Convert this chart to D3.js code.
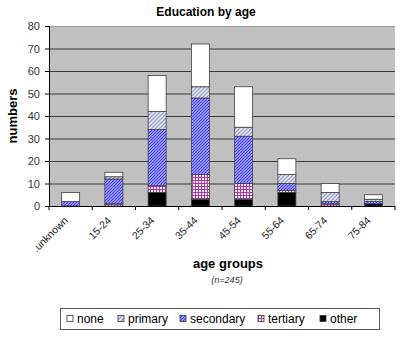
<!DOCTYPE html>
<html><head><meta charset="utf-8">
<script src="https://cdn.jsdelivr.net/npm/d3@7"></script>
<style>body{margin:0;background:#fff}svg{display:block}text{font-family:Arial,"Liberation Sans",sans-serif}</style>
</head><body>
<script>
const categories = [".unknown","15-24","25-34","35-44","45-54","55-64","65-74","75-84"];
const other     = [0, 0, 6, 3, 3, 6, 0, 1];
const tertiary  = [0, 1, 3, 11, 7, 1, 1, 0];
const secondary = [2, 11, 25, 34, 21, 3, 1, 1];
const primary   = [0, 1, 8, 5, 4, 4, 4, 1];
const none      = [4, 2, 16, 19, 18, 7, 4, 2];
const yTicks = [0,10,20,30,40,50,60,70,80];
const seriesNames = ["other","tertiary","secondary","primary","none"];
const legendOrder = ["none","primary","secondary","tertiary","other"];

(function(){
const W = 400, H = 337;
const svg = d3.select("body").append("svg").attr("width", W).attr("height", H);
const defs = svg.append("defs");

const pPrim = defs.append("pattern").attr("id","pat-primary").attr("patternUnits","userSpaceOnUse").attr("width",4).attr("height",4);
pPrim.append("rect").attr("width",4).attr("height",4).attr("fill","#eceef8");
pPrim.append("path").attr("d","M-1,1 l2,-2 M0,4 l4,-4 M3,5 l2,-2").attr("stroke","#9aa0cc").attr("stroke-width",1.3);
const pSec = defs.append("pattern").attr("id","pat-secondary").attr("patternUnits","userSpaceOnUse").attr("width",3).attr("height",3);
pSec.append("rect").attr("width",3).attr("height",3).attr("fill","#ffffff");
pSec.append("path").attr("d","M-1,1 l2,-2 M0,3 l3,-3 M2,4 l2,-2").attr("stroke","#3a3aff").attr("stroke-width",1.5);
const pTer = defs.append("pattern").attr("id","pat-tertiary").attr("patternUnits","userSpaceOnUse").attr("width",3).attr("height",3);
pTer.append("rect").attr("width",3).attr("height",3).attr("fill","#f4e4f4");
pTer.append("path").attr("d","M0,0.5 h3 M0.5,0 v3").attr("stroke","#a0409c").attr("stroke-width",1);

const fills = {none:"#ffffff", primary:"url(#pat-primary)", secondary:"url(#pat-secondary)", tertiary:"url(#pat-tertiary)", other:"#000000"};

const pl = 49, pr = 395, pt = 26, pb = 206;
const x = d3.scaleBand().domain(categories).range([pl, pr]).paddingInner(0.584).paddingOuter(0.292);
const y = d3.scaleLinear().domain([0, 80]).range([pb, pt]);

svg.append("rect").attr("x",pl).attr("y",pt).attr("width",pr-pl).attr("height",pb-pt).attr("fill","#c0c0c0");

svg.append("g").selectAll("line").data(yTicks.filter(d=>d>0)).join("line")
  .attr("x1",pl).attr("x2",pr).attr("y1",d=>y(d)+0.5).attr("y2",d=>y(d)+0.5)
  .attr("stroke", d=> d===80 ? "#9a9a9a" : "#3a3a3a").attr("stroke-width",1);

const table = categories.map((c,i)=>({cat:c, other:other[i], tertiary:tertiary[i], secondary:secondary[i], primary:primary[i], none:none[i]}));
const stacked = d3.stack().keys(seriesNames)(table);

const bars = svg.append("g");
stacked.forEach(layer=>{
  bars.append("g").selectAll("rect").data(layer.filter(d=>d[1]-d[0]>0)).join("rect")
    .attr("x", d=>x(d.data.cat)).attr("width", x.bandwidth())
    .attr("y", d=>y(d[1])).attr("height", d=>y(d[0])-y(d[1]))
    .attr("fill", fills[layer.key]).attr("stroke","#404040").attr("stroke-width",0.8);
});

const yAxis = d3.axisLeft(y).tickValues(yTicks).tickSize(4).tickPadding(5).tickFormat(d3.format("d"));
const gy = svg.append("g").attr("transform",`translate(${pl},0)`).call(yAxis);
gy.select(".domain").attr("stroke","#000");
gy.selectAll(".tick line").attr("stroke","#000");
gy.selectAll("text").attr("font-size","11px").attr("fill","#333").attr("font-family","Arial, 'Liberation Sans', sans-serif");

const gx = svg.append("g").attr("transform",`translate(0,${pb})`);
gx.append("line").attr("x1",pl).attr("x2",pr).attr("y1",0.5).attr("y2",0.5).attr("stroke","#000");
const bounds = d3.range(categories.length+1).map(i=> pl + i*x.step());
gx.selectAll("line.tk").data(bounds).join("line").attr("class","tk")
  .attr("x1",d=>d).attr("x2",d=>d).attr("y1",0).attr("y2",4).attr("stroke","#000");
gx.selectAll("text").data(categories).join("text")
  .attr("transform", d=>`translate(${x(d)+x.bandwidth()/2-2},${15}) rotate(-45)`)
  .attr("text-anchor","end").attr("font-size","10.5px").attr("fill","#222").text(d=>d);

svg.append("text").attr("x",206).attr("y",16).attr("text-anchor","middle").attr("font-size","12px").attr("font-weight","bold").text("Education by age");
svg.append("text").attr("transform","translate(17,116) rotate(-90)").attr("text-anchor","middle").attr("font-size","13px").attr("font-weight","bold").text("numbers");
svg.append("text").attr("x",228).attr("y",268).attr("text-anchor","middle").attr("font-size","13px").attr("font-weight","bold").text("age groups");
svg.append("text").attr("x",227).attr("y",283).attr("text-anchor","middle").attr("font-size","9px").attr("font-style","italic").attr("fill","#333").text("(n=245)");

svg.append("rect").attr("x",60.5).attr("y",308.5).attr("width",319).attr("height",21).attr("fill","#fff").attr("stroke","#555").attr("stroke-width",1);
const legX = [67, 118, 180, 258, 320];
const lg = svg.append("g").selectAll("g").data(legendOrder).join("g").attr("transform",(d,i)=>`translate(${legX[i]},0)`);
lg.append("rect").attr("x",0).attr("y",315.5).attr("width",6).attr("height",6).attr("fill",d=>fills[d]).attr("stroke","#333").attr("stroke-width",0.8);
lg.append("text").attr("x",10).attr("y",323).attr("font-size","12px").attr("fill","#000").text(d=>d);
})();
</script>
</body></html>
